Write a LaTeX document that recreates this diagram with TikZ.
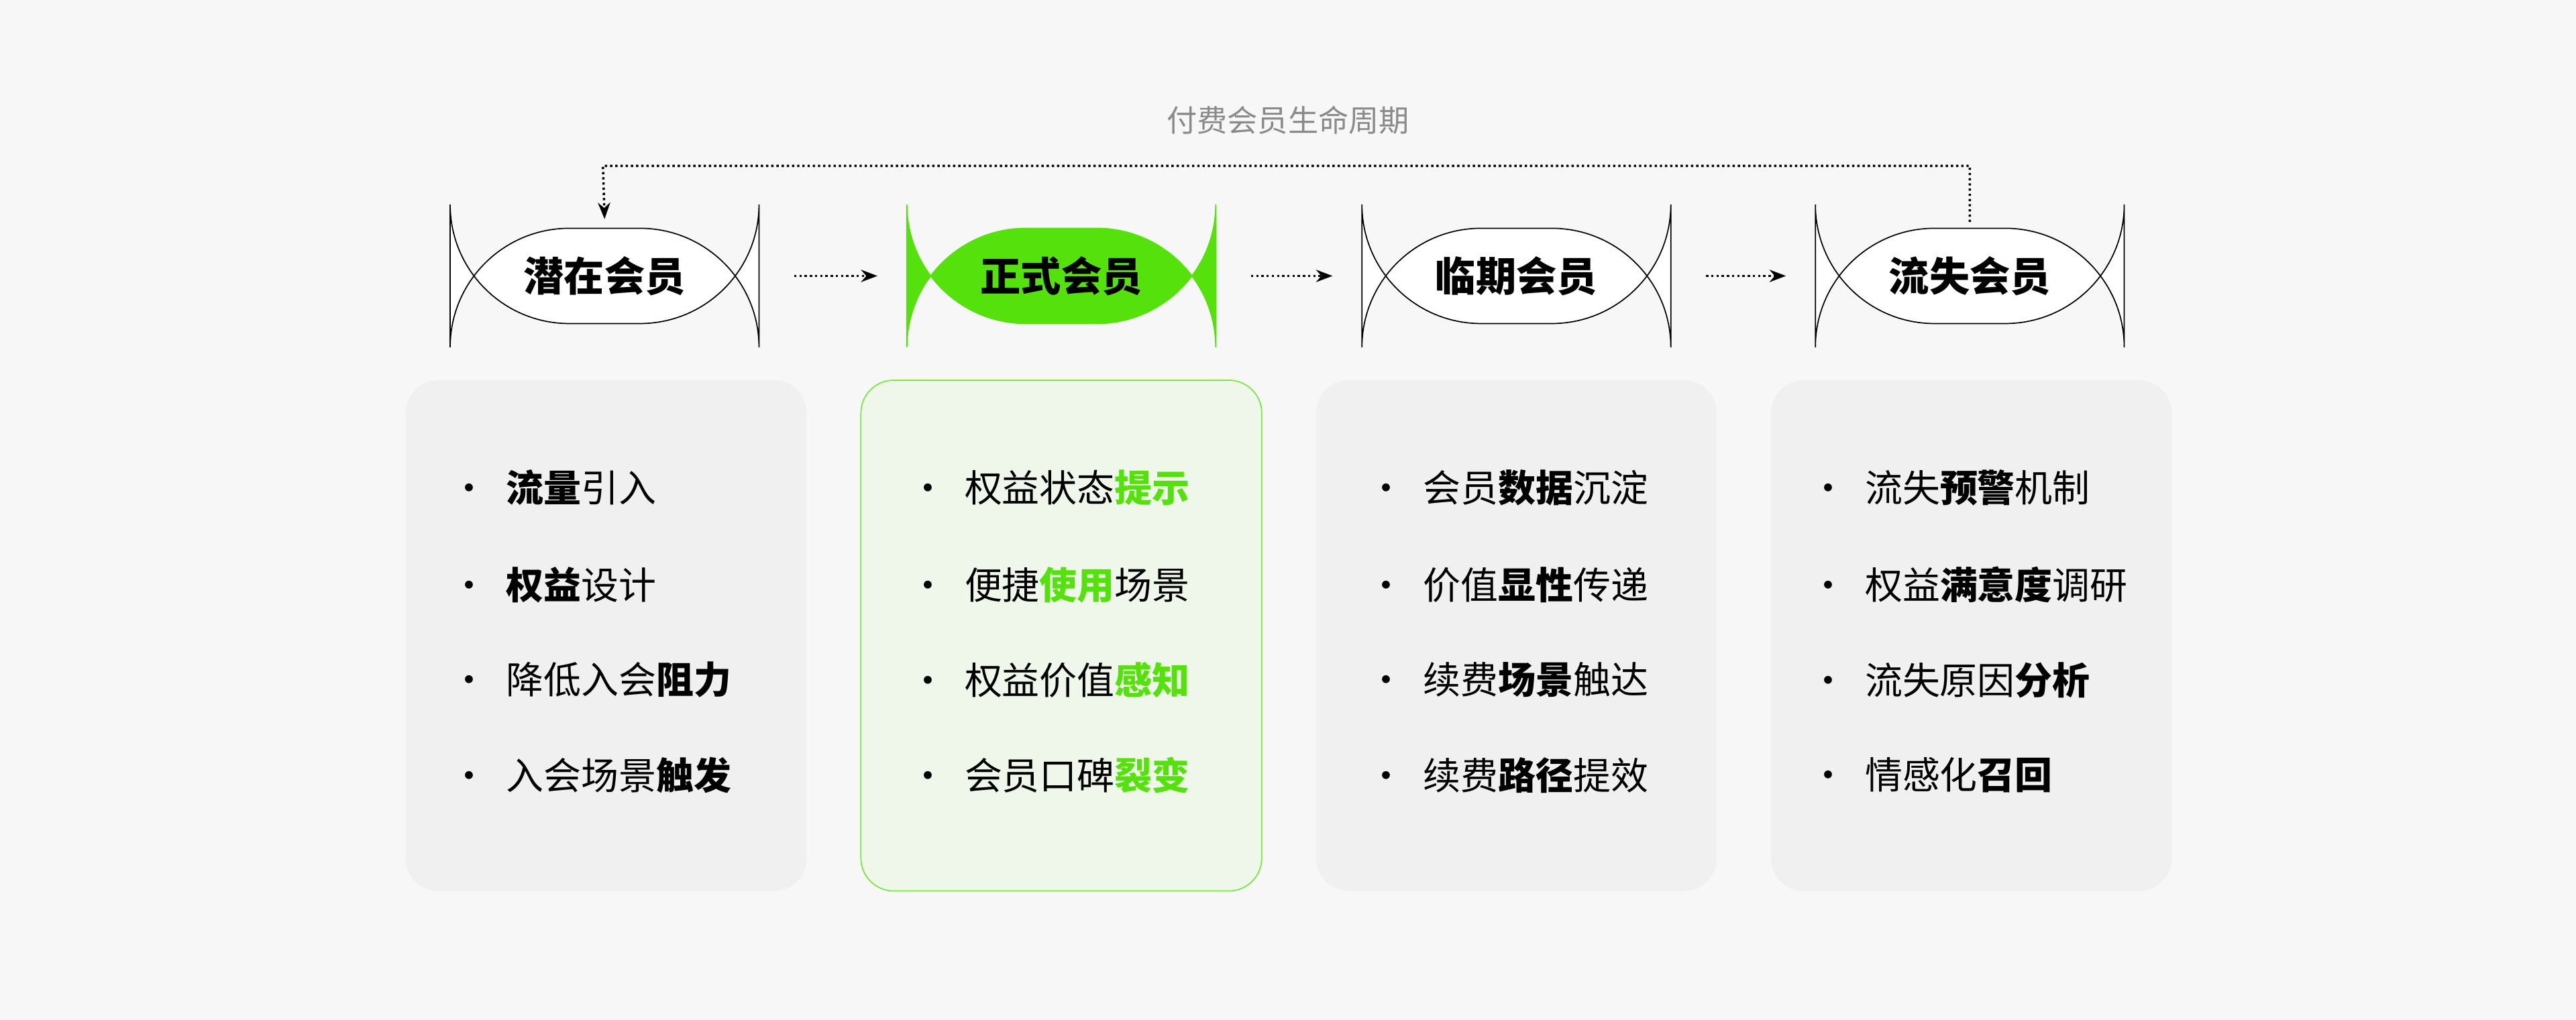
\documentclass[tikz,border=0pt]{standalone}
\usepackage{fontspec}
\setmainfont{Noto Sans CJK SC}
\newfontfamily\cjkbold[BoldFont={Noto Sans CJK SC Bold}]{Noto Sans CJK SC}
\usetikzlibrary{arrows.meta,positioning}
\definecolor{bggray}{HTML}{F7F7F7}
\definecolor{boxgray}{HTML}{F0F0F0}
\definecolor{mygreen}{HTML}{55E20C}
\definecolor{palegreen}{HTML}{EFF7EA}
\definecolor{titlegray}{HTML}{8A8A8A}
\tikzset{
  pill/.style={draw=black,thin,rounded corners=14.5mm,minimum width=37.6mm,minimum height=11.6mm,
    inner sep=0pt,font=\fontsize{14pt}{16pt}\selectfont\bfseries},
  pill active/.style={pill,draw=mygreen,fill=mygreen},
  card/.style={fill=boxgray,rounded corners=4mm,minimum width=48.8mm,minimum height=62.2mm,inner sep=0pt},
  card active/.style={card,fill=palegreen,draw=mygreen!80!white},
  item/.style={anchor=west,inner sep=0pt,font=\fontsize{13pt}{15pt}\selectfont},
  flow/.style={densely dotted,thick,-{Stealth[length=2mm]}}
}
\newcommand{\hl}[1]{\textbf{\color{mygreen}#1}}
\begin{document}
\begin{tikzpicture}[x=0.2mm,y=-0.2mm]
  \fill[bggray] (0,0) rectangle (1568,621);
  \node[font=\fontsize{10.5pt}{12pt}\selectfont,text=titlegray] (title) at (784,73) {付费会员生命周期};
  % stages
  \node[pill,fill=white]  (potential) at (368,168)  {潜在会员};
  \node[pill active]      (formal)    at (646,168)  {正式会员};
  \node[pill,fill=white]  (expiring)  at (923,168)  {临期会员};
  \node[pill,fill=white]  (lost)      at (1199,168) {流失会员};
  \draw[flow] ([xshift=12pt]potential.east) -- ([xshift=-10pt]formal.west);
  \draw[flow] ([xshift=12pt]formal.east) -- ([xshift=-10pt]expiring.west);
  \draw[flow] ([xshift=12pt]expiring.east) -- ([xshift=-10pt]lost.west);
  \coordinate (loopA) at (1199,101);
  \coordinate (loopB) at (367,101);
  \draw[flow] ([yshift=2pt]lost.north) -- (loopA) -- (loopB) -- ([yshift=3pt]potential.north);
  % cards
  \node[card]        (card1) at (369,387)  {};
  \node[card active] (card2) at (646,387)  {};
  \node[card]        (card3) at (923,387)  {};
  \node[card]        (card4) at (1200,387) {};
  % items
  \node[item] (p1) at (274,297) {·\hspace{2.2mm}\textbf{流量}引入};
  \node[item] (p2) at (274,356) {·\hspace{2.2mm}\textbf{权益}设计};
  \node[item] (p3) at (274,414) {·\hspace{2.2mm}降低入会\textbf{阻力}};
  \node[item] (p4) at (274,472) {·\hspace{2.2mm}入会场景\textbf{触发}};
  \node[item] (f1) at (553,297) {·\hspace{2.2mm}权益状态\hl{提示}};
  \node[item] (f2) at (553,356) {·\hspace{2.2mm}便捷\hl{使用}场景};
  \node[item] (f3) at (553,414) {·\hspace{2.2mm}权益价值\hl{感知}};
  \node[item] (f4) at (553,472) {·\hspace{2.2mm}会员口碑\hl{裂变}};
  \node[item] (e1) at (832,297) {·\hspace{2.2mm}会员\textbf{数据}沉淀};
  \node[item] (e2) at (832,356) {·\hspace{2.2mm}价值\textbf{显性}传递};
  \node[item] (e3) at (832,414) {·\hspace{2.2mm}续费\textbf{场景}触达};
  \node[item] (e4) at (832,472) {·\hspace{2.2mm}续费\textbf{路径}提效};
  \node[item] (l1) at (1101,297) {·\hspace{2.2mm}流失\textbf{预警}机制};
  \node[item] (l2) at (1101,356) {·\hspace{2.2mm}权益\textbf{满意度}调研};
  \node[item] (l3) at (1101,414) {·\hspace{2.2mm}流失原因\textbf{分析}};
  \node[item] (l4) at (1101,472) {·\hspace{2.2mm}情感化\textbf{召回}};
\end{tikzpicture}
\end{document}
